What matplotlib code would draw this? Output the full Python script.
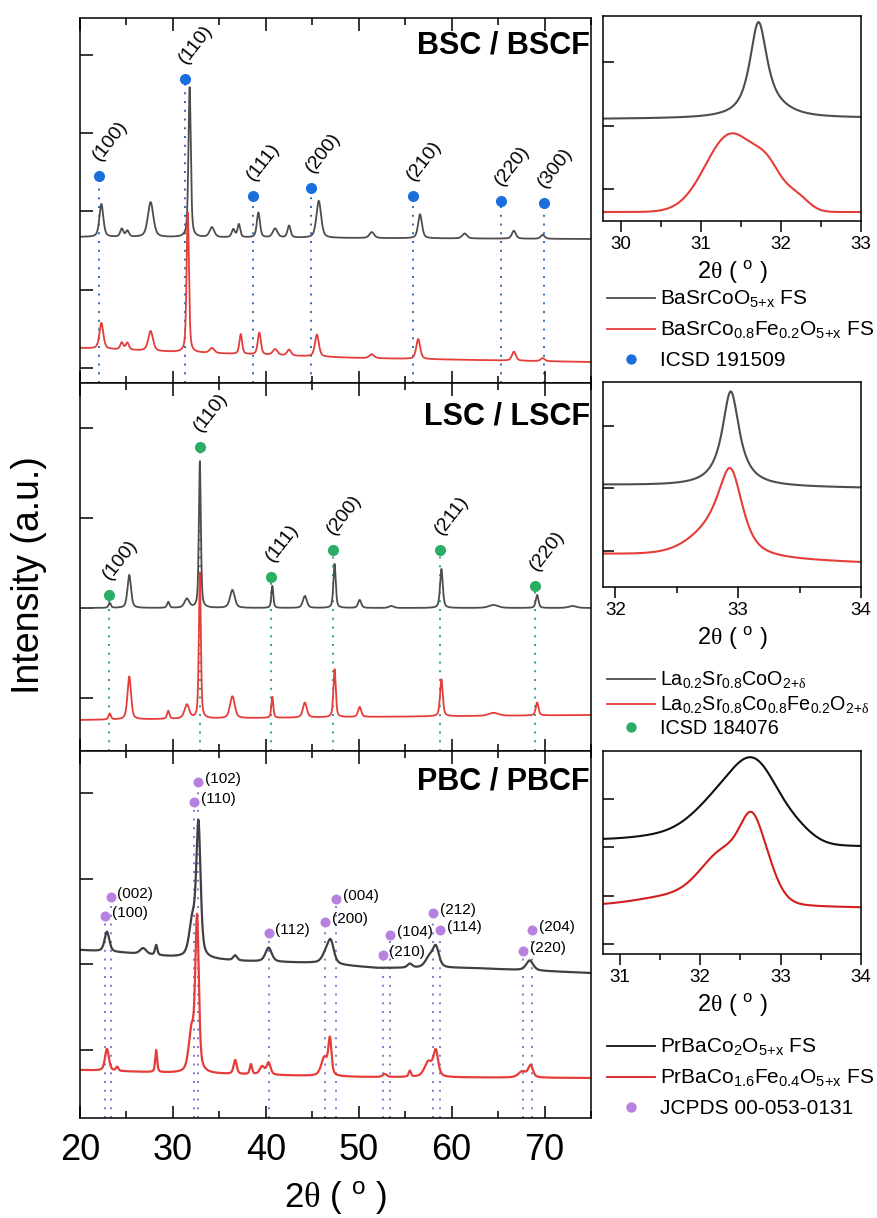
import numpy as np
import matplotlib
matplotlib.use("Agg")
import matplotlib.pyplot as plt
from matplotlib.lines import Line2D
from matplotlib.ticker import MultipleLocator

plt.rcParams.update({
    "font.family": ["Liberation Sans", "DejaVu Sans"],
    "mathtext.fontset": "custom",
    "mathtext.rm": "Liberation Sans",
    "mathtext.it": "Liberation Sans:italic",
    "mathtext.bf": "Liberation Sans:bold",
    "mathtext.sf": "Liberation Serif",   # serif Greek letters (theta, delta)
    "mathtext.default": "regular",
    "axes.linewidth": 1.1,
})

# ---------------------------------------------------------------- data
# Each pattern: baseline anchors (2theta, level) + peak list (centre, height, FWHM)

# BaSrCoO5+x / BaSrCo0.8Fe0.2O5+x
BSC_base_x = [20, 75]
BSC_base_y = [146, 144]
BSC_pos = [22.3, 24.5, 25.1, 27.6, 31.8, 34.2, 36.5, 37.1, 39.2, 41.0, 42.5, 45.7, 51.4, 56.6, 61.4, 66.7, 69.8]
BSC_amp = [33, 8, 6, 35, 150, 10, 8, 13, 25, 9, 12, 37, 6, 24, 5, 8, 4]
BSC_fwhm = [0.5, 0.4, 0.4, 0.7, 0.3, 0.6, 0.4, 0.35, 0.4, 0.6, 0.4, 0.6, 0.6, 0.5, 0.6, 0.5, 0.5]

BSCF_base_x = [20, 30, 50, 75]
BSCF_base_y = [35, 31, 25, 21]
BSCF_pos = [22.3, 24.5, 25.1, 27.6, 31.6, 34.2, 37.3, 39.3, 41.0, 42.5, 45.5, 51.4, 56.4, 66.7, 69.8]
BSCF_amp = [26, 7, 7, 20, 140, 5, 20, 22, 6, 6, 22, 4, 20, 9, 3]
BSCF_fwhm = [0.5, 0.4, 0.4, 0.6, 0.3, 0.6, 0.35, 0.4, 0.6, 0.5, 0.5, 0.6, 0.5, 0.5, 0.5]

BSC_ref_pos = [22.0, 31.3, 38.6, 44.9, 55.8, 65.3, 69.9]
BSC_ref_y = [207, 304, 187, 195, 187, 182, 180]
BSC_ref_hkl = ["(100)", "(110)", "(111)", "(200)", "(210)", "(220)", "(300)"]

# La0.2Sr0.8CoO2+d / La0.2Sr0.8Co0.8Fe0.2O2+d
LSC_base_x = [20, 75]
LSC_base_y = [143, 143]
LSC_pos = [23.2, 25.3, 29.5, 31.5, 32.9, 36.4, 40.7, 44.2, 47.4, 50.1, 53.5, 58.9, 64.5, 69.2, 73.0]
LSC_amp = [5, 33, 6, 9, 146, 18, 22, 12, 44, 8, 2, 39, 3, 13, 2]
LSC_fwhm = [0.3, 0.45, 0.3, 0.6, 0.25, 0.6, 0.25, 0.5, 0.3, 0.4, 0.6, 0.35, 1.2, 0.35, 1.0]

LSCF_base_x = [20, 50, 75]
LSCF_base_y = [31, 34, 36]
LSCF_pos = [23.2, 25.3, 29.5, 31.5, 32.9, 36.4, 40.7, 44.2, 47.4, 50.1, 58.9, 64.5, 69.2]
LSCF_amp = [6, 43, 8, 14, 146, 22, 21, 15, 48, 10, 37, 3, 13]
LSCF_fwhm = [0.3, 0.45, 0.3, 0.6, 0.25, 0.6, 0.25, 0.5, 0.3, 0.4, 0.35, 1.2, 0.35]

LSC_ref_pos = [23.1, 32.9, 40.6, 47.2, 58.8, 69.0]
LSC_ref_y = [156, 304, 174, 201, 201, 165]
LSC_ref_hkl = ["(100)", "(110)", "(111)", "(200)", "(211)", "(220)"]

# PrBaCo2O5+x / PrBaCo1.6Fe0.4O5+x
PBC_base_x = [20, 25, 30, 37, 45, 52, 62, 75]
PBC_base_y = [168, 165, 161, 157, 155, 150, 150, 145]
PBC_pos = [22.9, 26.8, 28.2, 32.1, 32.75, 36.7, 40.3, 46.5, 47.0, 55.5, 57.6, 58.3, 68.4]
PBC_amp = [20, 6, 10, 35, 131, 5, 14, 10, 20, 4, 10, 20, 10]
PBC_fwhm = [0.6, 0.8, 0.3, 0.8, 0.55, 0.5, 0.8, 1.0, 0.8, 0.6, 1.0, 0.8, 0.9]

PBCF_base_x = [20, 30, 50, 75]
PBCF_base_y = [48, 45, 41, 40]
PBCF_pos = [22.9, 24.0, 28.2, 32.0, 32.6, 36.7, 38.4, 39.6, 40.3, 46.3, 46.9, 52.8, 55.5, 57.5, 58.3, 67.6, 68.5]
PBCF_amp = [22, 4, 22, 40, 152, 14, 10, 8, 12, 18, 35, 3, 6, 15, 25, 6, 12]
PBCF_fwhm = [0.5, 0.3, 0.25, 0.7, 0.45, 0.4, 0.3, 0.6, 0.5, 0.8, 0.4, 0.5, 0.3, 1.0, 0.6, 1.0, 0.6]

PBC_ref_pos = [22.7, 23.3, 32.3, 32.75, 40.3, 46.4, 47.6, 52.6, 53.4, 58.0, 58.8, 67.7, 68.7]
PBC_ref_y = [202, 221, 316, 336, 185, 196, 219, 163, 183, 205, 188, 167, 188]
PBC_ref_hkl = ["(100)", "(002)", "(110)", "(102)", "(112)", "(200)", "(004)",
               "(210)", "(104)", "(212)", "(114)", "(220)", "(204)"]

# main (110) reflection, enlarged
BSC_zoom = dict(bx=[29.78, 33], by=[102, 103], pos=[31.72, 31.95], amp=[93, 6], fwhm=[0.26, 0.5], eta=0.85)
BSCF_zoom = dict(bx=[29.78, 33], by=[9, 9], pos=[31.38, 31.85, 32.2], amp=[78, 28, 14], fwhm=[0.75, 0.4, 0.35], eta=0.0)
LSC_zoom = dict(bx=[31.9, 34], by=[102, 99], pos=[32.94], amp=[95], fwhm=[0.17], eta=1.0)
LSCF_zoom = dict(bx=[31.9, 34], by=[32, 24], pos=[32.94, 32.8], amp=[70, 28], fwhm=[0.22, 0.45], eta=0.6)
PBC_zoom = dict(bx=[30.79, 34], by=[114, 108], pos=[31.8, 32.3, 32.72, 33.2], amp=[8, 40, 62, 12], fwhm=[1.2, 0.8, 0.65, 0.5], eta=0.0)
PBCF_zoom = dict(bx=[30.79, 34], by=[48, 46], pos=[31.6, 32.3, 32.64, 32.85], amp=[8, 52, 60, 20], fwhm=[1.0, 0.7, 0.35, 0.35], eta=0.2)

# ---------------------------------------------------------------- style
C_GRAY = "#4d4d4d"
C_RED = "#e53d3a"
C_BLUE = "#1b6fdc"
C_GREEN = "#2aae66"
C_PURPLE = "#b781e0"
G_BLUE = "#2d6cb3"
G_GREEN = "#3a9c84"
G_PURPLE = "#8d74cc"


def pattern(x, bx, by, pos, amp, fwhm, eta=0.5):
    y = np.interp(x, bx, by).astype(float)
    for p, a, w in zip(pos, amp, fwhm):
        d = (x - p) / w
        g = np.exp(-4 * np.log(2) * d ** 2)
        lz = 1.0 / (1.0 + 4 * d ** 2)
        y = y + a * (eta * lz + (1 - eta) * g)
    return y


W, H = 878, 1218
fig = plt.figure(figsize=(W / 100, H / 100), dpi=100)


def px_axes(l, t, r, b):
    return fig.add_axes([l / W, 1 - b / H, (r - l) / W, (b - t) / H])


x2t = np.linspace(20, 75, 5501)

panels = [
    dict(box=(80, 18, 591, 383), title="BSC / BSCF", ty=0.926,
         a=(BSC_base_x, BSC_base_y, BSC_pos, BSC_amp, BSC_fwhm), acol=C_GRAY,
         b=(BSCF_base_x, BSCF_base_y, BSCF_pos, BSCF_amp, BSCF_fwhm), bcol=C_RED,
         refs=(BSC_ref_pos, BSC_ref_y, BSC_ref_hkl), mcol=C_BLUE, gcol=G_BLUE,
         yt=[15, 93, 172, 250, 328], rotated=True, lw=1.3),
    dict(box=(80, 383, 591, 751), title="LSC / LSCF", ty=0.910,
         a=(LSC_base_x, LSC_base_y, LSC_pos, LSC_amp, LSC_fwhm), acol=C_GRAY,
         b=(LSCF_base_x, LSCF_base_y, LSCF_pos, LSCF_amp, LSCF_fwhm), bcol=C_RED,
         refs=(LSC_ref_pos, LSC_ref_y, LSC_ref_hkl), mcol=C_GREEN, gcol=G_GREEN,
         yt=[53, 143, 233, 323], rotated=True, lw=1.3),
    dict(box=(80, 751, 591, 1118), title="PBC / PBCF", ty=0.918,
         a=(PBC_base_x, PBC_base_y, PBC_pos, PBC_amp, PBC_fwhm), acol="#404040",
         b=(PBCF_base_x, PBCF_base_y, PBCF_pos, PBCF_amp, PBCF_fwhm), bcol=C_RED,
         refs=(PBC_ref_pos, PBC_ref_y, PBC_ref_hkl), mcol=C_PURPLE, gcol=G_PURPLE,
         yt=[68, 154, 239, 325], rotated=False, lw=1.6),
]

for i, pnl in enumerate(panels):
    l, t, r, b = pnl["box"]
    ax = px_axes(l, t, r, b)
    ax.set_xlim(20, 75)
    ax.set_ylim(0, b - t)
    rp, ry, rh = pnl["refs"]
    ax.vlines(rp, 0, ry, colors=pnl["gcol"], linestyles=(0, (1, 3.5)), lw=1.4, zorder=1)
    ax.plot(x2t, pattern(x2t, *pnl["a"]), color=pnl["acol"], lw=pnl["lw"], zorder=2)
    ax.plot(x2t, pattern(x2t, *pnl["b"]), color=pnl["bcol"], lw=pnl["lw"], zorder=2)
    ms = 8 if pnl["rotated"] else 7.2
    ax.plot(rp, ry, "o", color=pnl["mcol"], ms=ms, mec="none", zorder=3)
    for p, yv, hkl in zip(rp, ry, rh):
        if pnl["rotated"]:
            ax.text(p - 1.0, yv + 12, hkl, rotation=52, ha="left", va="bottom", fontsize=14)
        else:
            ax.text(p + 0.7, yv + 3, hkl, ha="left", va="center", fontsize=11)
    ax.text(0.998, pnl["ty"], pnl["title"], transform=ax.transAxes, ha="right", va="center",
            fontsize=22, fontweight="bold")
    ax.xaxis.set_major_locator(MultipleLocator(10))
    ax.xaxis.set_minor_locator(MultipleLocator(5))
    ax.set_yticks(pnl["yt"])
    ax.tick_params(axis="both", which="both", direction="in", top=True, right=False, width=1.1)
    ax.tick_params(axis="both", which="major", length=9)
    ax.tick_params(axis="x", which="minor", length=5)
    ax.tick_params(axis="y", labelleft=False)
    if i < 2:
        ax.tick_params(axis="x", labelbottom=False)
    else:
        ax.tick_params(axis="x", labelsize=26, pad=11)
        ax.set_xlabel(r"2$\mathsf{\theta}$ ( $^{o}$ )", fontsize=25, labelpad=8)

fig.text(29 / W, 1 - 575 / H, "Intensity (a.u.)", rotation=90, ha="center", va="center", fontsize=27)

# ---------------------------------------------------------------- zoomed (110) panels
insets = [
    dict(box=(603, 16, 861, 221), xlim=(29.78, 33), a=BSC_zoom, b=BSCF_zoom,
         acol=C_GRAY, bcol=C_RED, yt=[32, 95, 159], mcol=C_BLUE,
         labels=[r"BaSrCoO$_{5{+}x}$ FS", r"BaSrCo$_{0.8}$Fe$_{0.2}$O$_{5{+}x}$ FS", "ICSD 191509"],
         leg=(607, 289), lsp=0.47, fs=15),
    dict(box=(603, 382, 861, 587), xlim=(31.9, 34), a=LSC_zoom, b=LSCF_zoom,
         acol=C_GRAY, bcol=C_RED, yt=[36, 99, 161], mcol=C_GREEN,
         labels=[r"La$_{0.2}$Sr$_{0.8}$CoO$_{2{+}\mathsf{\delta}}$",
                 r"La$_{0.2}$Sr$_{0.8}$Co$_{0.8}$Fe$_{0.2}$O$_{2{+}\mathsf{\delta}}$", "ICSD 184076"],
         leg=(607, 670), lsp=0.17, fs=14.2),
    dict(box=(603, 751, 861, 954), xlim=(30.79, 34), a=PBC_zoom, b=PBCF_zoom,
         acol="#111111", bcol="#d21e1e", yt=[10, 58, 107, 155], mcol=C_PURPLE,
         labels=[r"PrBaCo$_{2}$O$_{5{+}x}$ FS", r"PrBaCo$_{1.6}$Fe$_{0.4}$O$_{5{+}x}$ FS", "JCPDS 00-053-0131"],
         leg=(607, 1037), lsp=0.47, fs=15),
]

for ins in insets:
    l, t, r, b = ins["box"]
    ax = px_axes(l, t, r, b)
    xz = np.linspace(ins["xlim"][0], ins["xlim"][1], 1200)
    for key, col in (("a", ins["acol"]), ("b", ins["bcol"])):
        d = ins[key]
        ax.plot(xz, pattern(xz, d["bx"], d["by"], d["pos"], d["amp"], d["fwhm"], d["eta"]),
                color=col, lw=1.5)
    ax.set_xlim(*ins["xlim"])
    ax.set_ylim(0, b - t)
    ax.xaxis.set_major_locator(MultipleLocator(1))
    ax.xaxis.set_minor_locator(MultipleLocator(0.5))
    ax.set_yticks(ins["yt"])
    ax.tick_params(axis="x", which="both", direction="out", width=1.1, labelsize=13.5, pad=3)
    ax.tick_params(axis="x", which="major", length=8)
    ax.tick_params(axis="x", which="minor", length=4)
    ax.tick_params(axis="y", direction="in", length=8, width=1.1, labelleft=False)
    ax.set_xlabel(r"2$\mathsf{\theta}$ ( $^{o}$ )", fontsize=17, labelpad=4)
    handles = [Line2D([], [], color=ins["acol"], lw=1.3),
               Line2D([], [], color=ins["bcol"], lw=1.3),
               Line2D([], [], marker="o", ls="none", color=ins["mcol"], ms=7.5, mec="none")]
    lx, ly = ins["leg"]
    hl = 2.3 * 15 / ins["fs"]
    ax.legend(handles, ins["labels"], loc="upper left", bbox_to_anchor=(lx / W, 1 - ly / H),
              bbox_transform=fig.transFigure, frameon=False, fontsize=ins["fs"], handlelength=hl,
              handletextpad=0.25, labelspacing=ins["lsp"], borderpad=0, borderaxespad=0)

fig.savefig("out.png", dpi=100)
